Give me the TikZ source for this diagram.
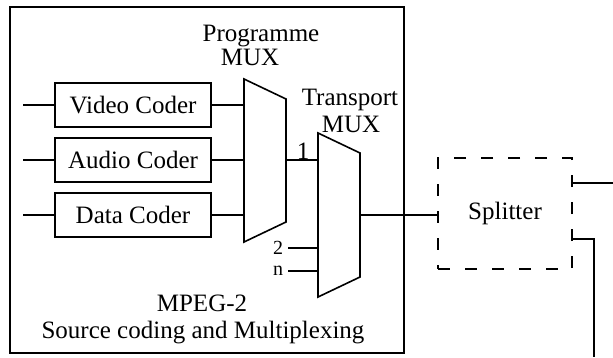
\documentclass[tikz,border=0pt]{standalone}
\usepackage{fontspec}
\setmainfont{Liberation Serif}
\begin{document}
\begin{tikzpicture}[x=1pt,y=-1pt,line width=1.6pt,
	font=\fontsize{25}{27}\selectfont,
	coder/.style={draw,rectangle,minimum width=156pt,minimum height=44pt,inner sep=0pt},
	lbl/.style={anchor=base,inner sep=0pt},
	small/.style={lbl,font=\fontsize{20}{21}\selectfont},
	splitbox/.style={draw,rectangle,dashed,dash pattern=on 12pt off 15pt,minimum width=134pt,minimum height=111pt,inner sep=0pt}]
	\useasboundingbox (0,0) rectangle (613,357);
	
	% outer frame
	\draw (10,7) rectangle (404,353);
	
	% coders
	\foreach \name/\txt/\y in {video/Video Coder/105,audio/Audio Coder/160,data/Data Coder/215} {
		\node[coder] (\name) at (133,\y) {\txt};
		\coordinate (\name-in) at (23,\y);
		\coordinate (\name-out) at (244,\y);
		\draw (\name-in) -- (\name.west);
		\draw (\name.east) -- (\name-out);
	}
	
	% programme mux
	\coordinate (pm-a) at (244,79);
	\coordinate (pm-b) at (286,99);
	\coordinate (pm-c) at (286,222);
	\coordinate (pm-d) at (244,242);
	\draw (pm-a) -- (pm-b) -- (pm-c) -- (pm-d) -- cycle;
	\coordinate (pm-out) at (286,160);
	
	% transport mux
	\coordinate (tm-a) at (318,133);
	\coordinate (tm-b) at (360,153);
	\coordinate (tm-c) at (360,277);
	\coordinate (tm-d) at (318,297);
	\draw (tm-a) -- (tm-b) -- (tm-c) -- (tm-d) -- cycle;
	\coordinate (tm-in1) at (318,160);
	\coordinate (tm-in2) at (318,248);
	\coordinate (tm-inn) at (318,271);
	\coordinate (tm-out) at (360,215);
	
	\draw (pm-out) -- (tm-in1);
	\coordinate (in2) at (288,248);
	\coordinate (inn) at (288,271);
	\draw (in2) -- (tm-in2);
	\draw (inn) -- (tm-inn);
	
	% labels
	\node[lbl] (pm-t1) at (261,41) {Programme};
	\node[lbl] (pm-t2) at (250,65) {MUX};
	\node[lbl] (tm-t1) at (350,105) {Transport};
	\node[lbl] (tm-t2) at (351,132) {MUX};
	\node[lbl] (one) at (303,159) {1};
	\node[small] (two) at (278,254) {2};
	\node[small] (nn) at (278,275) {n};
	\node[lbl] (mpeg) at (202,311) {MPEG-2};
	\node[lbl] (src) at (203,338) {Source coding and Multiplexing};
	
	% splitter
	\node[splitbox] (split) at (505,213.5) {Splitter};
	\draw (tm-out) -- (split.west |- tm-out);
	\coordinate (sp-o1) at (613,183);
	\coordinate (sp-o2) at (594,357);
	\draw (split.east |- sp-o1) -- (sp-o1);
	\draw (split.east |- 0,239) -| (sp-o2);
\end{tikzpicture}
\end{document}
